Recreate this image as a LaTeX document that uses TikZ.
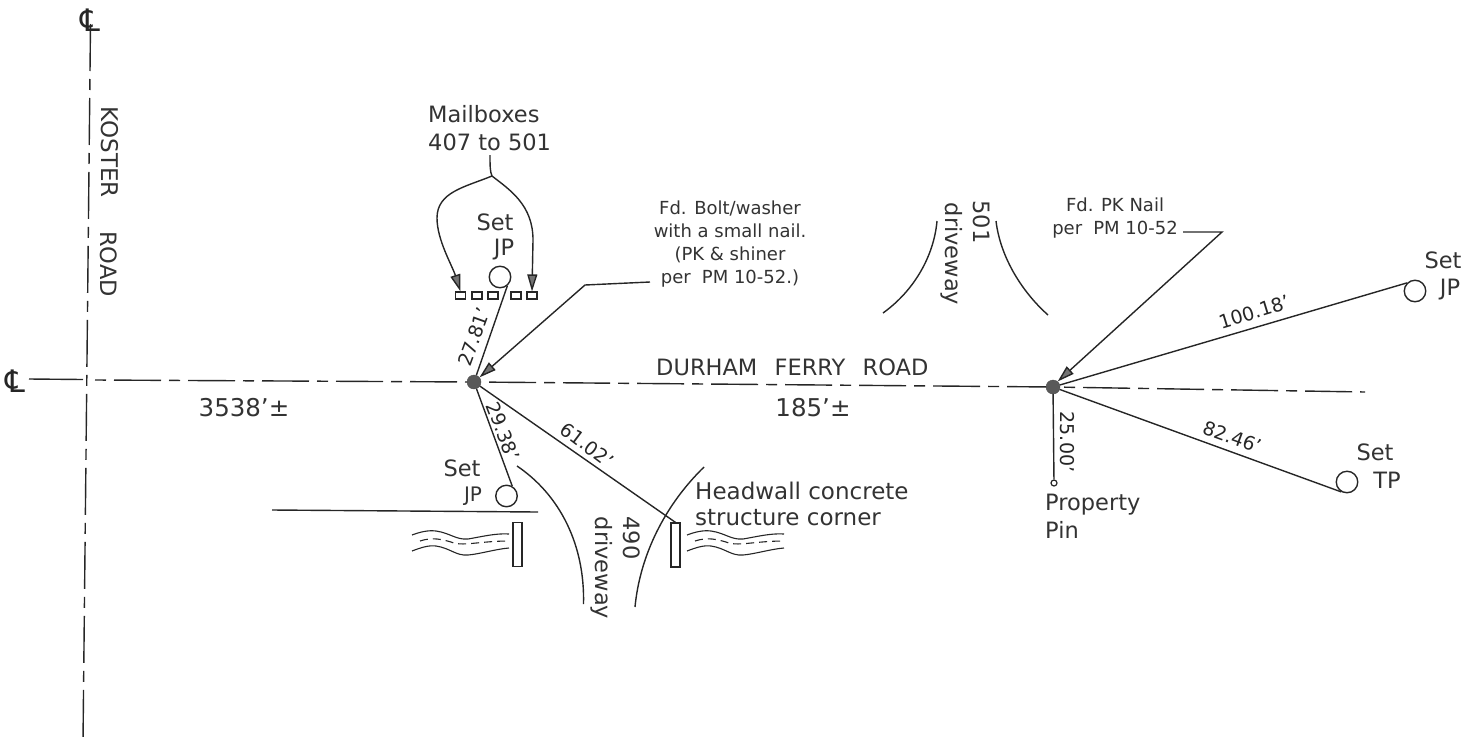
\documentclass[tikz,border=0pt]{standalone}
\usepackage{fontspec}
\setmainfont{DejaVu Sans}
\usetikzlibrary{arrows.meta}
\tikzset{
  x=1pt,y=-1pt,
  ink/.style={draw=black!85,line width=1.4pt},
  thin ink/.style={draw=black!85,line width=1.1pt},
  cline/.style={draw=black!85,line width=1.4pt,dash pattern=on 47pt off 8pt on 11pt off 8pt},
  lab/.style={inner sep=0pt,text=black!80,font=\fontsize{22.5}{28}\selectfont},
  note/.style={inner sep=0pt,text=black!80,align=center,font=\fontsize{18}{23}\selectfont},
  dim/.style={inner sep=0pt,text=black!85,font=\fontsize{19}{22}\selectfont},
  dotn/.style={circle,fill=black!65,draw=black!70,minimum size=14pt,inner sep=0pt},
  setc/.style={circle,draw=black!85,line width=1.4pt,minimum size=21.5pt,inner sep=0pt},
  mbox/.style={rectangle,draw=black!85,line width=1.2pt,minimum width=10pt,minimum height=7pt,inner sep=0pt},
  wall/.style={draw=black!85,line width=1.2pt,minimum width=9pt,minimum height=44pt,inner sep=0pt},
  arr/.style={ink,-{Triangle[length=17pt,width=10pt,fill=black!55]}},
  clmark/.style={inner sep=0pt,text=black!85,font=\fontsize{31}{31}\selectfont},
}
\newcommand{\waterway}[1]{%
  \begin{scope}[shift={(#1,0)},thin ink]
    \draw (0,535) .. controls (8,532) and (16,530) .. (24,531) .. controls (38,533) and (44,540) .. (56,539) .. controls (68,537) and (84,533) .. (97,534);
    \draw (0,551) .. controls (8,548) and (16,545) .. (24,546) .. controls (38,548) and (44,556) .. (56,555) .. controls (68,554) and (84,549) .. (97,548);
    \draw[dash pattern=on 8pt off 5pt] (8,541) .. controls (20,537) and (30,539) .. (42,543) .. controls (52,546) and (70,541) .. (97,541);
  \end{scope}}
\begin{document}
\begin{tikzpicture}
\useasboundingbox (0,0) rectangle (1479,742);
% key points
\node[dotn] (d1) at (474,382) {};
\node[dotn] (d2) at (1053,387) {};
\coordinate (kt) at (90.5,24);
\coordinate (kb) at (83,742);
\coordinate (hl) at (29,379);
\coordinate (hm) at (83,379.5);
\coordinate (hn) at (95,380);
\coordinate (hr) at (1365,392);
\node[clmark] (cl1) at (90,20) {℄};
\node[clmark] (cl2) at (15,381) {℄};
% centre lines
\draw[cline] (kt) -- (kb);
\draw[ink] (hl) -- (hm);
\draw[cline,dash phase=55pt] (hn) -- (d1);
\draw[cline,dash phase=66pt] (d1) -- (d2);
\draw[cline,dash phase=51pt] (d2) -- (hr);
% road labels
\node[lab,rotate=-90,font=\fontsize{23}{28}\selectfont] (koster) at (110,152) {KOSTER};
\node[lab,rotate=-90] (road) at (109,264) {ROAD};
\node[lab,anchor=west] (durham) at (656,367) {DURHAM\hspace{0.45em} FERRY\hspace{0.45em} ROAD};
\node[lab,font=\fontsize{24.5}{28}\selectfont] (d3538) at (244,408) {3538'±};
\node[lab,font=\fontsize{24.5}{28}\selectfont] (d185) at (813,408) {185'±};
% mailboxes
\node[lab,align=left,anchor=west] (mail) at (428,128) {Mailboxes\\407 to 501};
\coordinate (fork) at (492,176);
\coordinate (stem) at (490,155);
\node[mbox] (m1) at (460.5,295.5) {};
\node[mbox] (m2) at (477,295.5) {};
\node[mbox] (m3) at (493,295.5) {};
\node[mbox] (m4) at (516,295.5) {};
\node[mbox] (m5) at (532,295.5) {};
\draw[ink] (stem) .. controls (490,165) and (490,172) .. (fork);
\draw[arr] (fork) .. controls (465,187) and (437,192) .. (437,218) .. controls (437,240) and (452,265) .. (m1.north);
\draw[arr] (fork) .. controls (510,190) and (533,205) .. (533,240) -- (m5.north);
\node[lab] (set1) at (495,222) {Set};
\node[lab] (jp1) at (504,250) {JP};
\node[setc] (c1) at (500,277) {};
\draw[ink] (d1) -- (c1.-50);
\node[dim,rotate=70] (l2781) at (474,337) {27.81'};
% bolt note
\node[note] (bolt) at (730,244) {Fd. Bolt/washer\\with a small nail.\\(PK \& shiner\\per\hspace{0.3em} PM 10-52.)};
\coordinate (boltk) at (585,285);
\coordinate (bolts) at (650,282);
\draw[arr] (bolts) -- (boltk) -- (d1.40);
% south-west
\node[setc] (c2) at (506.5,496) {};
\draw[ink] (d1) -- (c2.60);
\node[dim,rotate=-69] (l2938) at (503,431) {29.38'};
\node[lab] (set2) at (462,468) {Set};
\node[lab,font=\fontsize{20}{24}\selectfont] (jp2) at (473,496) {JP};
\coordinate (wl) at (272,510);
\coordinate (wr) at (538,512);
\draw[ink] (wl) -- (wr);
\node[wall] (r1) at (517.5,544.5) {};
\waterway{412}
% headwall
\node[wall] (r2) at (675.5,545) {};
\waterway{687}
\draw[ink] (d1) -- (r2.north);
\node[dim,rotate=-37] (l6102) at (587,445) {61.02'};
\node[lab,align=left,anchor=west,font=\fontsize{23}{26}\selectfont] (head) at (695,504) {Headwall concrete\\structure corner};
% 490 driveway
\coordinate (a1) at (517,466);
\coordinate (a2) at (583.5,604);
\coordinate (a3) at (704,467);
\coordinate (a4) at (635,607);
\draw[ink] (a1) .. controls (560,495) and (585,545) .. (a2);
\draw[ink] (a3) .. controls (665,505) and (640,555) .. (a4);
\node[lab,rotate=-90] (n490) at (632,538) {490};
\node[lab,rotate=-90] (drv1) at (602,568) {driveway};
% 501 driveway
\node[lab,rotate=-90] (n501) at (982,222) {501};
\node[lab,rotate=-90] (drv2) at (952,254) {driveway};
\coordinate (b1) at (937,221);
\coordinate (b2) at (883,313);
\coordinate (b3) at (996,221);
\coordinate (b4) at (1048,315);
\draw[ink] (b1) .. controls (934,255) and (915,290) .. (b2);
\draw[ink] (b3) .. controls (1000,255) and (1020,290) .. (b4);
% nail note
\node[note] (nail) at (1115,218.5) {Fd. PK Nail\\per\hspace{0.3em} PM 10-52};
\coordinate (nailk) at (1222,232);
\coordinate (nails) at (1183,232);
\draw[arr] (nails) -- (nailk) -- (d2.50);
% east
\node[setc] (c3) at (1415,291) {};
\draw[ink] (d2) -- (c3.north west);
\node[dim,rotate=17] (l10018) at (1254,312) {100.18'};
\node[lab] (set3) at (1443,260) {Set};
\node[lab] (jp3) at (1450,290) {JP};
\node[setc] (c4) at (1347,482) {};
\draw[ink] (d2) -- (c4.-120);
\node[dim,rotate=-20] (l8246) at (1232,437) {82.46'};
\node[lab] (set4) at (1375,452) {Set};
\node[lab] (tp) at (1387,480) {TP};
\node[circle,draw=black!85,line width=1.2pt,minimum size=6pt,inner sep=0pt] (pin) at (1054,483) {};
\draw[ink] (d2) -- (pin);
\node[dim,rotate=-90] (l2500) at (1067,442) {25.00'};
\node[lab,align=left,anchor=west] (prop) at (1045,516) {Property\\Pin};
\end{tikzpicture}
\end{document}
